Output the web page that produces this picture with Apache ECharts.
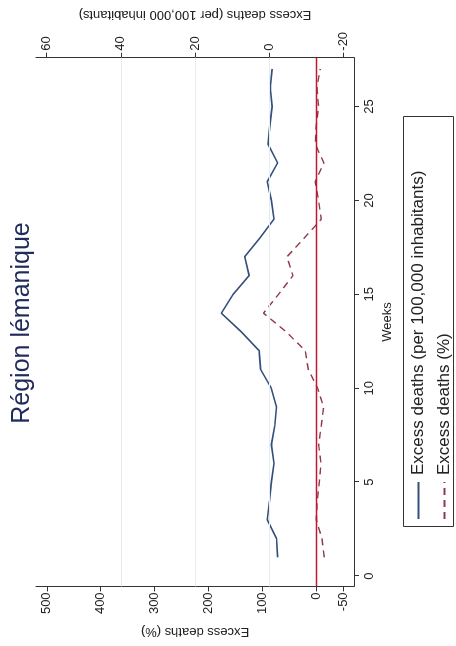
<!DOCTYPE html>
<html>
<head>
<meta charset="utf-8">
<script src="https://cdn.jsdelivr.net/npm/echarts@6/dist/echarts.min.js"></script>
<style>
html,body{margin:0;padding:0;background:#fff;overflow:hidden;width:456px;height:646px;}
#chart{position:absolute;left:0;top:0;width:646px;height:456px;transform-origin:0 0;transform:translate(0,646px) rotate(-90deg);}
</style>
</head>
<body>
<div id="chart"></div>
<script>
const weeks = [1,2,3,4,5,6,7,8,9,10,11,12,13,14,15,16,17,18,19,20,21,22,23,24,25,26,27];
const excessPer100k = [-2.3,-2.0,0.5,-0.1,-0.6,-1.3,-0.6,-1.5,-2.0,-0.6,2.3,2.7,7.5,12.9,9.7,5.4,6.6,2.5,-1.3,-0.6,0.5,-2.3,0.3,-0.2,-0.8,-0.3,-0.8];
const excessPct = [-14.8,-10.5,0,-1.9,-5.6,-8.7,-4.3,-9.3,-13.6,-2.5,14.8,20.4,55.7,98,70,43.3,54.4,22.3,-9.3,-4.3,1.9,-14,1.9,0,-4.3,-1.2,-7.4];
const leftTicks = [-50,0,100,200,300,400,500];
const rightTicks = [-20,0,20,40,60];
const weekTicks = [0,5,10,15,20,25];
const gridValues = [0,20,40];
const zeroLine = [0];
const titleText = 'Région lémanique';
const nameA = 'Excess deaths (per 100,000 inhabitants)';
const nameB = 'Excess deaths (%)';

const FONT = '"Liberation Sans", Arial, Helvetica, sans-serif';
const chart = echarts.init(document.getElementById('chart'), null, {renderer:'canvas'});
const axisCol = '#333';
const labelStyle = {fontFamily: FONT, fontSize: 13, color: '#222'};

chart.setOption({
  animation: false,
  backgroundColor: '#fff',
  title: {
    text: titleText, left: 'center', top: 5,
    textStyle: {fontFamily: FONT, fontSize: 25, fontWeight: 'normal', color: '#1f2b5b'}
  },
  grid: {left: 59, right: 57, top: 36, bottom: 102, containLabel: false},
  graphic: [{
    type: 'rect', z: 0, silent: true,
    shape: {x: 119.5, y: 403.5, width: 410, height: 50},
    style: {fill: '#fff', stroke: '#333', lineWidth: 1}
  }],
  legend: {
    orient: 'vertical', left: 126, top: 410,
    data: [nameA, nameB],
    itemWidth: 37, itemHeight: 14, itemGap: 9,
    padding: 0,
    borderWidth: 0,
    itemStyle: {opacity: 0},
    textStyle: {fontFamily: FONT, fontSize: 17, lineHeight: 14, color: '#222', padding: [0, 0, 0, 2]}
  },
  xAxis: {
    type: 'value', min: -0.55, max: 27.6,
    name: 'Weeks', nameLocation: 'middle', nameGap: 27,
    nameTextStyle: {fontFamily: FONT, fontSize: 13, color: '#222'},
    axisLine: {show: true, onZero: false, lineStyle: {color: axisCol, width: 1}},
    axisTick: {show: true, length: 5, customValues: weekTicks, lineStyle: {color: axisCol}},
    axisLabel: Object.assign({margin: 9, customValues: weekTicks}, labelStyle),
    splitLine: {show: false}
  },
  yAxis: [
    {
      type: 'value', position: 'left', min: -70, max: 520,
      name: nameB, nameLocation: 'middle', nameRotate: 90, nameGap: 36,
      nameTextStyle: {fontFamily: FONT, fontSize: 13, color: '#222'},
      axisLine: {show: true, onZero: false, lineStyle: {color: axisCol, width: 1}},
      axisTick: {show: true, length: 5, customValues: leftTicks, lineStyle: {color: axisCol}},
      axisLabel: Object.assign({margin: 6, customValues: leftTicks}, labelStyle),
      splitLine: {show: false}
    },
    {
      type: 'value', position: 'right', min: -22.9, max: 62.9,
      name: nameA, nameLocation: 'middle', nameRotate: 90, nameGap: 35,
      nameTextStyle: {fontFamily: FONT, fontSize: 13, color: '#222'},
      axisLine: {show: true, onZero: false, lineStyle: {color: axisCol, width: 1}},
      axisTick: {show: true, length: 5, customValues: rightTicks, lineStyle: {color: axisCol}},
      axisLabel: Object.assign({margin: 7, customValues: rightTicks}, labelStyle),
      splitLine: {show: false}
    }
  ],
  series: [
    {
      name: '_grid', type: 'line', yAxisIndex: 1, data: [], z: 1, silent: true,
      markLine: {
        silent: true, symbol: ['none','none'], label: {show: false},
        lineStyle: {color: '#e6ecf1', type: 'solid', width: 1},
        data: gridValues.map(v => ({yAxis: v}))
      }
    },
    {
      name: '_zero', type: 'line', yAxisIndex: 0, data: [], z: 1, silent: true,
      markLine: {
        silent: true, symbol: ['none','none'], label: {show: false},
        lineStyle: {color: '#c4162e', type: 'solid', width: 1.3},
        data: zeroLine.map(v => ({yAxis: v}))
      }
    },
    {
      name: nameA, type: 'line', yAxisIndex: 1, z: 3,
      data: weeks.map((w, i) => [w, excessPer100k[i]]),
      symbol: 'none', showSymbol: false,
      lineStyle: {color: '#34507a', width: 1.6},
      itemStyle: {color: '#34507a'}
    },
    {
      name: nameB, type: 'line', yAxisIndex: 0, z: 3,
      data: weeks.map((w, i) => [w, excessPct[i]]),
      symbol: 'none', showSymbol: false,
      lineStyle: {color: '#8f3a4a', width: 1.4, type: [7, 5]},
      itemStyle: {color: '#8f3a4a'}
    }
  ]
});
</script>
</body>
</html>
